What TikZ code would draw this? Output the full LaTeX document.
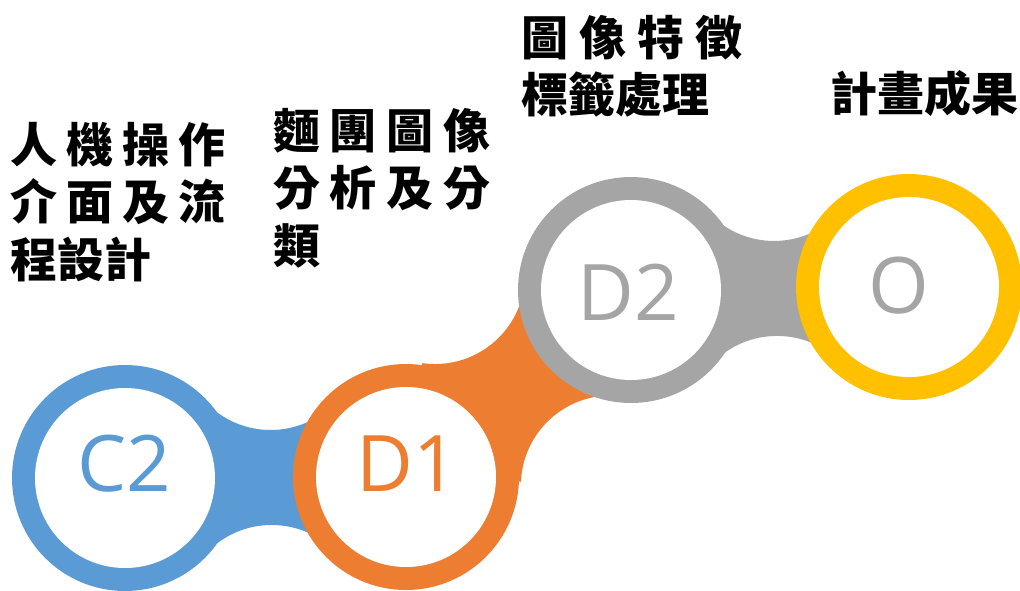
\documentclass[tikz,border=0pt]{standalone}
\usepackage{fontspec}
\newfontfamily\cjk{Noto Sans CJK TC}
\newfontfamily\lat{Open Sans}
\usetikzlibrary{calc}
\definecolor{cblue}{HTML}{5B9BD5}
\definecolor{corange}{HTML}{ED7D31}
\definecolor{cgray}{HTML}{A5A5A5}
\definecolor{cyellow}{HTML}{FFC000}
\newcommand\mybridge[3]{%
  \coordinate (m) at ($(#1)!0.52!(#2)$);
  \coordinate (t) at ($(m)!137.5pt!90:(#2)$);
  \coordinate (b) at ($(m)!137.5pt!-90:(#2)$);
  \begin{scope}[even odd rule]
    \clip (-100,-100) rectangle (1200,700)
      (t) circle (90pt) (b) circle (90pt);
    \fill[#3] (#1) -- (t) -- (#2) -- (b) -- cycle;
  \end{scope}}
\newcommand\myring[2]{%
  \fill[#2] (#1) circle (113pt);
  \fill[white] (#1) circle (90pt);}
\begin{document}
\begin{tikzpicture}[x=1pt,y=-1pt,
  ringlabel/.style={font=\lat\fontsize{78}{80}\selectfont, inner sep=0pt},
  cjktext/.style={font=\cjk\bfseries\fontsize{47}{57.5}\selectfont, inner sep=0pt,
    anchor=north west, align=left, text width=#1}]
\useasboundingbox (0,0) rectangle (1020,590);
\coordinate (c2) at (125,478);
\coordinate (d1) at (406,477);
\coordinate (d2) at (631,290);
\coordinate (o) at (909,287);
% bridges
\mybridge{c2}{d1}{cblue}
\mybridge{d1}{d2}{corange}
\mybridge{d2}{o}{cgray}
% rings
\myring{c2}{cblue}
\myring{d1}{corange}
\myring{d2}{cgray}
\myring{o}{cyellow}
% ring labels
\node[ringlabel, text=cblue] (lc2) at (124,464) {C2};
\node[ringlabel, text=corange] (ld1) at (407,464) {D1};
\node[ringlabel, text=cgray] (ld2) at (628,292) {D2};
\node[ringlabel, text=cgray] (lo) at (899,286) {O};
% texts
\node[cjktext=215pt] (t1) at (10,122) {人\hfill 機\hfill 操\hfill 作\\ 介\hfill 面\hfill 及\hfill 流\\ 程設計};
\node[cjktext=217pt] (t2) at (273,108) {麵\hfill 團\hfill 圖\hfill 像\\ 分\hfill 析\hfill 及\hfill 分\\ 類};
\node[cjktext=221pt] (t3) at (521,15) {圖\hfill 像\hfill 特\hfill 徵\\ 標籤處理};
\node[cjktext=200pt] (t4) at (830,70) {計畫成果};
\end{tikzpicture}
\end{document}
